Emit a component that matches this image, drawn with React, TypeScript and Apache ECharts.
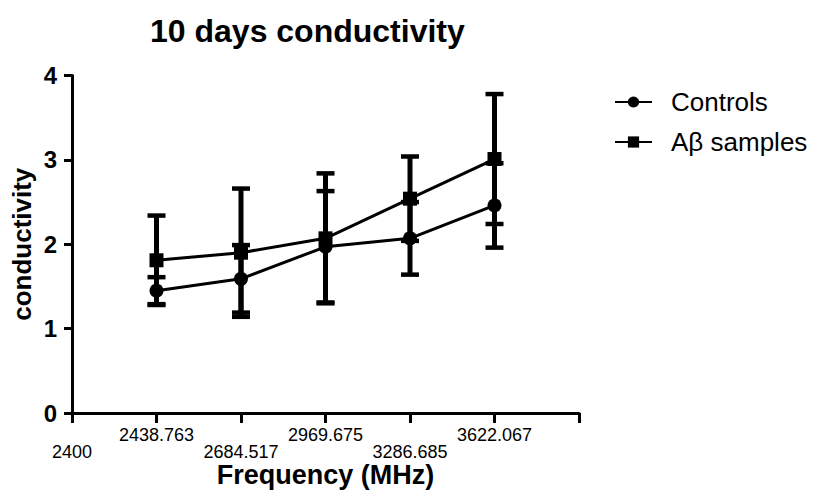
import React, { useEffect, useRef } from "react";
import * as echarts from "echarts";

const categories = ["2400", "2438.763", "2684.517", "2969.675", "3286.685", "3622.067", ""];
const sampleFreqs = ["2438.763", "2684.517", "2969.675", "3286.685", "3622.067"];
const controlsMean = [1.45, 1.59, 1.97, 2.07, 2.46];
const controlsSem = [0.16, 0.4, 0.66, 0.43, 0.5];
const abetaMean = [1.81, 1.9, 2.07, 2.54, 3.01];
const abetaSem = [0.53, 0.76, 0.77, 0.5, 0.77];
const yTicks = [0, 1, 2, 3, 4];

const FONT = "Arial, 'Liberation Sans', sans-serif";

function errorBarSeries(name: string, mean: number[], sem: number[]) {
  return {
    type: "custom",
    name: name + " err",
    silent: true,
    z: 2,
    data: sampleFreqs.map((f, i) => [f, mean[i] - sem[i], mean[i] + sem[i]]),
    encode: { x: 0, y: [1, 2] },
    renderItem: (params: any, api: any) => {
      const xi = api.value(0);
      const lo = api.coord([xi, api.value(1)]);
      const hi = api.coord([xi, api.value(2)]);
      const hw = 9;
      const style = { stroke: "#000", lineWidth: 5 };
      return {
        type: "group",
        children: [
          { type: "line", shape: { x1: lo[0], y1: lo[1], x2: hi[0], y2: hi[1] }, style },
          { type: "line", shape: { x1: hi[0] - hw, y1: hi[1], x2: hi[0] + hw, y2: hi[1] }, style: { stroke: "#000", lineWidth: 4.5 } },
          { type: "line", shape: { x1: lo[0] - hw, y1: lo[1], x2: lo[0] + hw, y2: lo[1] }, style: { stroke: "#000", lineWidth: 4.5 } },
        ],
      };
    },
  };
}

export default function App() {
  const ref = useRef<HTMLDivElement>(null);
  useEffect(() => {
    if (!ref.current) return;
    const chart = echarts.init(ref.current, null, { renderer: "svg" });
    chart.setOption({
      animation: false,
      backgroundColor: "#fff",
      title: {
        text: "10 days conductivity",
        left: 150,
        top: 15,
        padding: 0,
        textStyle: { fontFamily: FONT, fontSize: 32, fontWeight: "bold", color: "#000" },
      },
      legend: {
        orient: "vertical",
        left: 614,
        top: 89,
        padding: 0,
        itemWidth: 37,
        itemHeight: 14,
        itemGap: 14,
        data: ["Controls", "Aβ samples"],
        textStyle: { fontFamily: FONT, fontSize: 26, color: "#000", padding: [0, 0, 0, 14] },
      },
      grid: { left: 72, right: 245, top: 75.5, bottom: 88, containLabel: false },
      xAxis: {
        type: "category",
        data: categories,
        boundaryGap: false,
        name: "Frequency (MHz)",
        nameLocation: "middle",
        nameGap: 48,
        nameMoveOverlap: false,
        nameTextStyle: { fontFamily: FONT, fontSize: 27, fontWeight: "bold", color: "#000", verticalAlign: "top" },
        axisLine: { show: true, lineStyle: { color: "#000", width: 3 } },
        axisTick: { show: true, interval: 0, length: 10, lineStyle: { color: "#000", width: 3 } },
        axisLabel: {
          interval: 0,
          margin: 13,
          fontFamily: FONT,
          fontSize: 18,
          lineHeight: 17,
          color: "#000",
          formatter: (v: string, idx: number) => (idx % 2 === 0 ? "\n" + v : v),
        },
        splitLine: { show: false },
      },
      yAxis: {
        type: "value",
        min: yTicks[0],
        max: yTicks[yTicks.length - 1],
        interval: 1,
        name: "conductivity",
        nameLocation: "middle",
        nameGap: 37,
        nameMoveOverlap: false,
        nameTextStyle: { fontFamily: FONT, fontSize: 26, fontWeight: "bold", color: "#000" },
        axisLine: { show: true, lineStyle: { color: "#000", width: 3 } },
        axisTick: { show: true, length: 8, lineStyle: { color: "#000", width: 3 } },
        axisLabel: { margin: 15, fontFamily: FONT, fontSize: 24, fontWeight: "bold", color: "#000" },
        splitLine: { show: false },
      },
      series: [
        errorBarSeries("Controls", controlsMean, controlsSem),
        errorBarSeries("Aβ samples", abetaMean, abetaSem),
        {
          type: "line",
          name: "Controls",
          z: 3,
          symbol: "circle",
          symbolSize: 14,
          data: sampleFreqs.map((f, i) => [f, controlsMean[i]]),
          lineStyle: { color: "#000", width: 3 },
          itemStyle: { color: "#000" },
        },
        {
          type: "line",
          name: "Aβ samples",
          z: 3,
          symbol: "rect",
          symbolSize: 14,
          data: sampleFreqs.map((f, i) => [f, abetaMean[i]]),
          lineStyle: { color: "#000", width: 3 },
          itemStyle: { color: "#000" },
        },
      ],
    });
    return () => chart.dispose();
  }, []);
  return (
    <div
      ref={ref}
      style={{ position: "fixed", left: 0, top: 0, width: 824, height: 501 }}
    />
  );
}
